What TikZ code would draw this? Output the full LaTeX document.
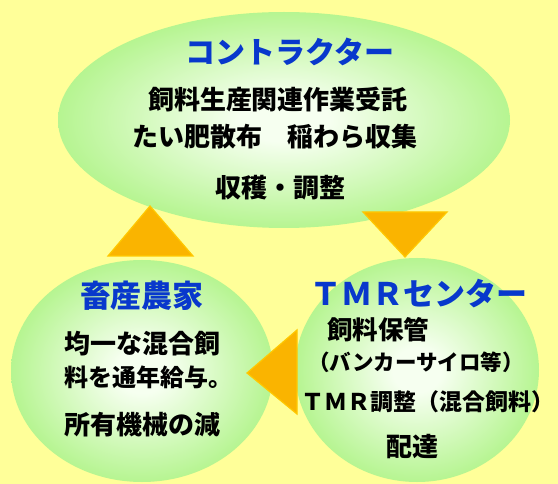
\documentclass[tikz,border=0pt]{standalone}
\usepackage{fontspec}
\newfontfamily\jp{Noto Sans CJK JP}
\usetikzlibrary{shapes.geometric}
\definecolor{bgyellow}{RGB}{255,255,153}
\definecolor{glowin}{RGB}{246,255,240}
\definecolor{glowout}{RGB}{153,240,102}
\definecolor{titleblue}{RGB}{8,56,204}
\definecolor{arrowfill}{RGB}{250,180,0}
\definecolor{arrowedge}{RGB}{255,200,0}
\pgfdeclareradialshading{glow}{\pgfpoint{0bp}{0bp}}{color(0bp)=(glowin);color(5bp)=(glowin);color(34bp)=(glowout);color(50bp)=(glowout)}
\tikzset{
  bubble/.style={ellipse, shading=glow, inner sep=0pt},
  flowarrow/.style={fill=arrowfill, draw=arrowedge, line width=1.2pt, line join=miter},
  ttl/.style={text=titleblue, font=\jp\bfseries\fontsize{#1}{#1}\selectfont, inner sep=0pt},
  body/.style={text=black, font=\jp\bfseries\fontsize{#1}{#1}\selectfont, inner sep=0pt},
}
\begin{document}
\begin{tikzpicture}[x=1pt,y=-1pt]
\fill[bgyellow] (0,0) rectangle (558,484);
\useasboundingbox (0,0) rectangle (558,484);
\begin{scope}
\clip (0,0) rectangle (558,484);
\node[bubble, minimum width=452pt, minimum height=216pt] (contractor) at (284,120) {};
\node[bubble, minimum width=262pt, minimum height=222pt] (farmer) at (142,371) {};
\node[bubble, minimum width=244pt, minimum height=224pt] (tmr) at (417,370) {};
\end{scope}
% arrows
\path[flowarrow] (150,206) -- (193,256) -- (108,256) -- cycle;
\path[flowarrow] (363,212) -- (447,212) -- (405,257) -- cycle;
\path[flowarrow] (247,373) -- (297,330) -- (297,414) -- cycle;
% contractor texts
\node[ttl=30] (ct) at (290,52) {コントラクター};
\node[body=26] (c1) at (278,100) {飼料生産関連作業受託};
\node[body=26] (c2) at (275,137) {たい肥散布　稲わら収集};
\node[body=26] (c3) at (280,188) {収穫・調整};
% farmer texts
\node[ttl=31] (ft) at (142,296) {畜産農家};
\node[body=26, anchor=west] (f1) at (64,344) {均一な混合飼};
\node[body=24, anchor=west] (f2) at (64,377) {料を通年給与。};
\node[body=26, anchor=west] (f3) at (64,425) {所有機械の減};
% tmr texts
\node[ttl=31] (tt) at (419,294) {ＴＭＲセンター};
\node[body=25.5, anchor=west] (t1) at (327,330) {飼料保管};
\node[body=21.5, anchor=west] (t2) at (308,362) {（バンカーサイロ等）};
\node[body=23, anchor=west] (t3) at (301,402) {ＴＭＲ調整（混合飼料）};
\node[body=26] (t4) at (412,447) {配達};
\end{tikzpicture}
\end{document}
